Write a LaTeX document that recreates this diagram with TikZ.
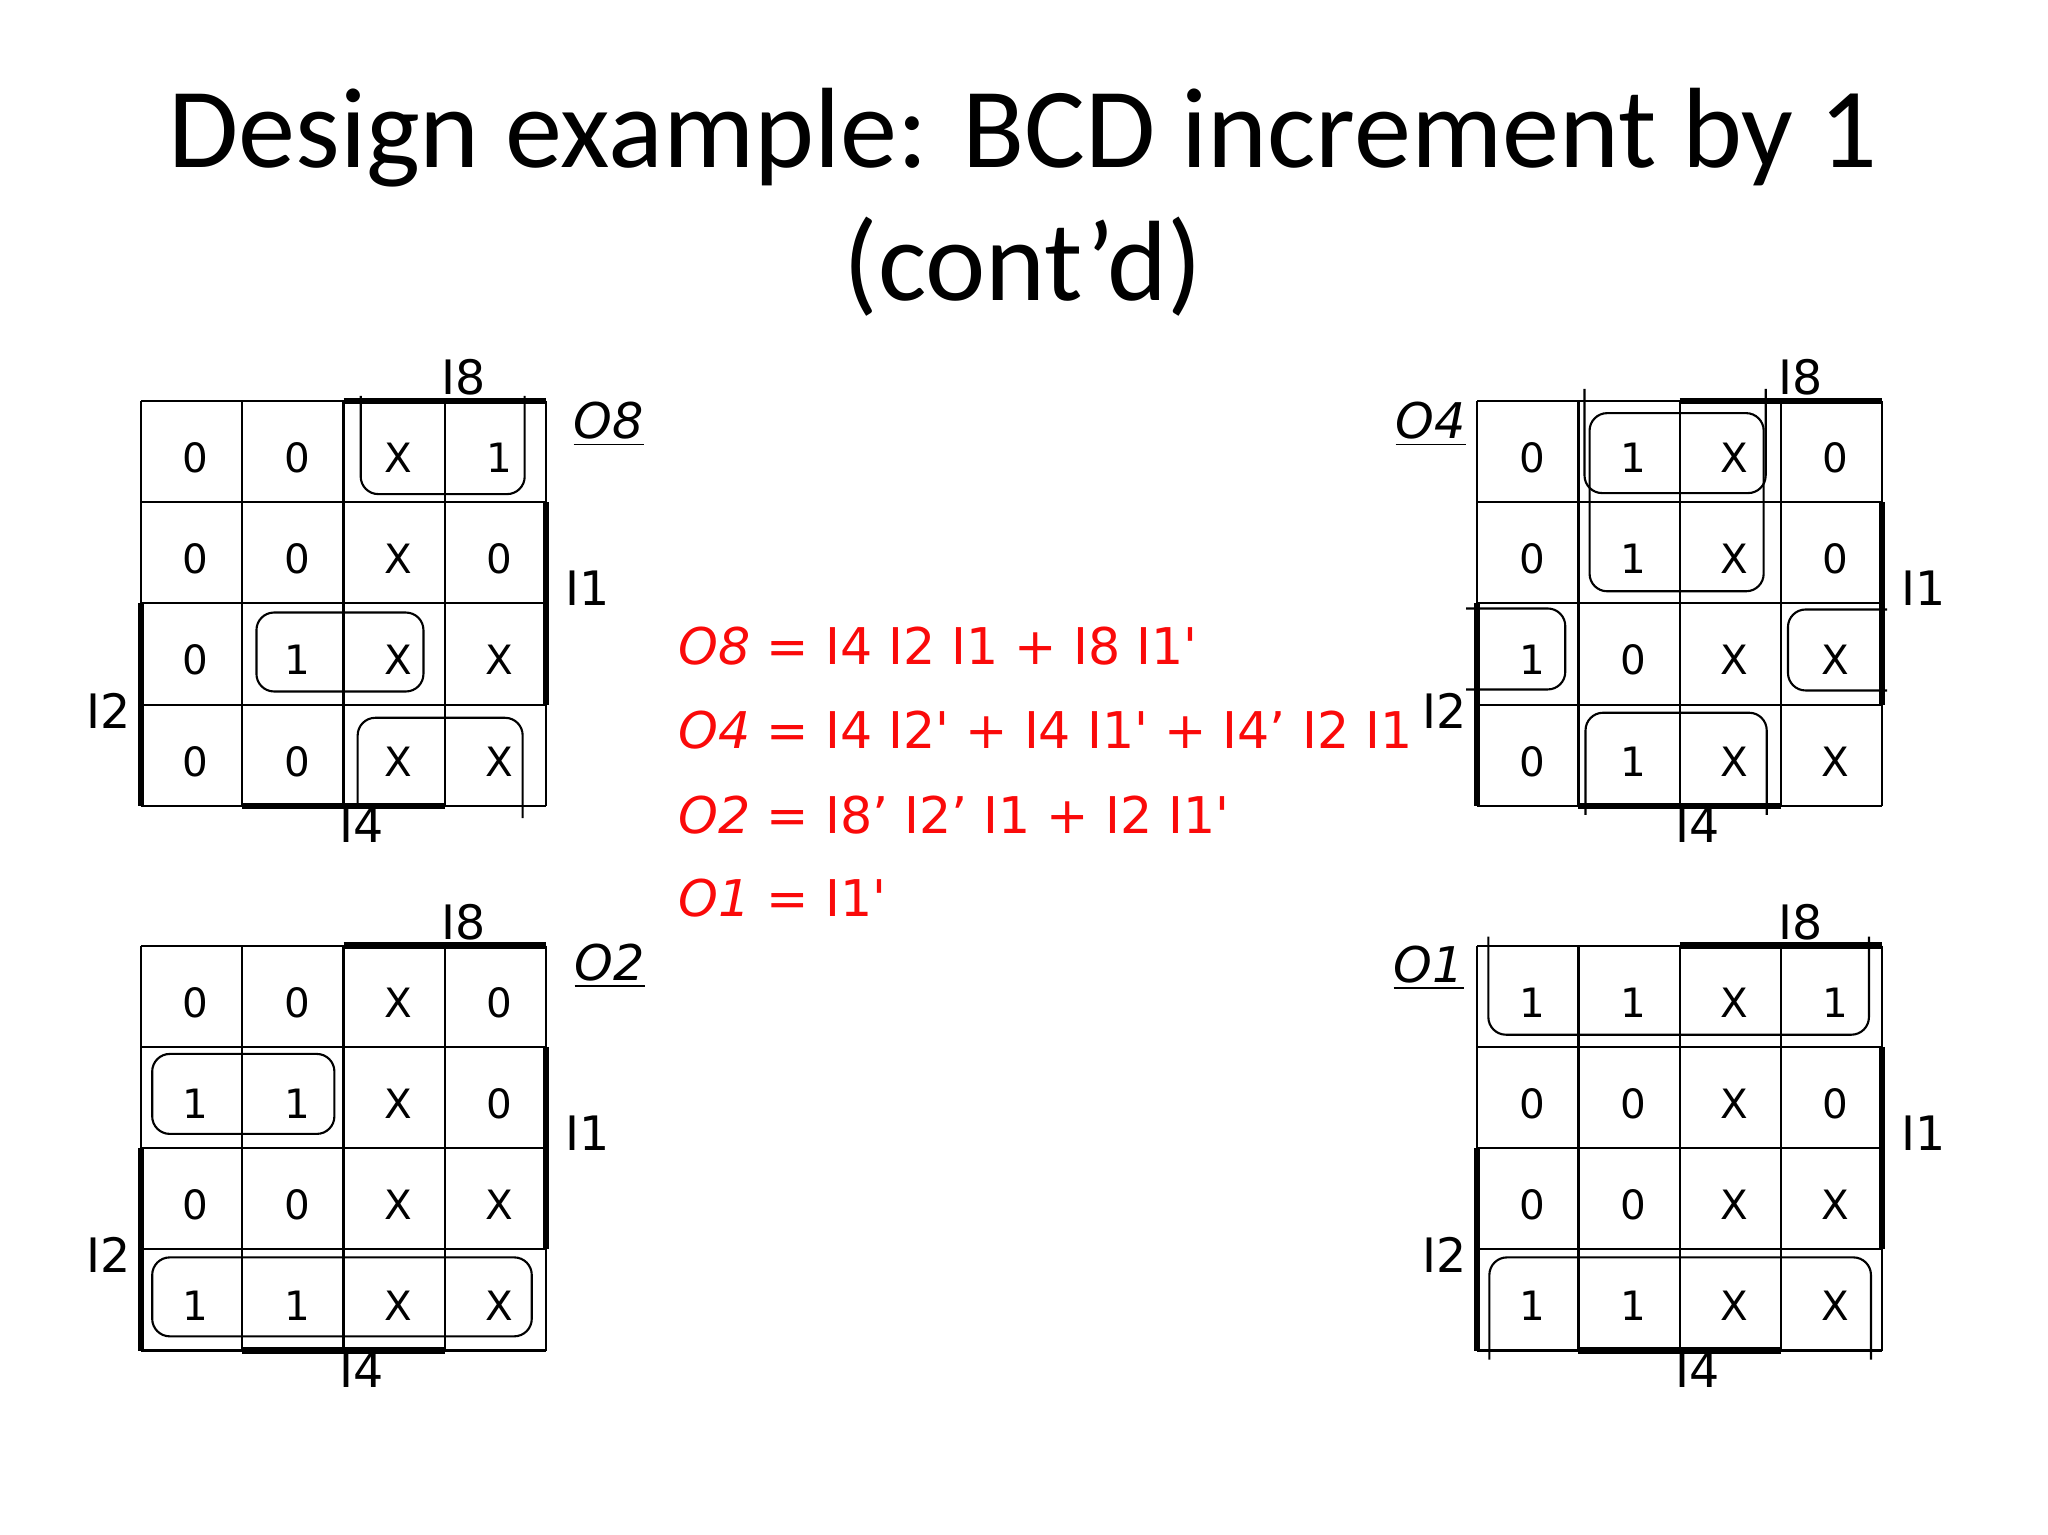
\documentclass[tikz,border=0pt]{standalone}
\usepackage{fontspec}
\setmainfont{Carlito}
\newfontfamily\kfont[Ligatures=TeXOff]{DejaVu Sans}
\usepackage{tikz}
\usepackage{xcolor}
\definecolor{eqred}{RGB}{250,10,10}

% one Karnaugh map: #1 = name prefix, #2 = rows of cell values
\newcommand{\kmapgrid}[2]{%
  \foreach \kk in {0,...,4} {
    \draw[kgrid] (\kk,0) -- (\kk,4);
    \draw[kgrid] (0,\kk) -- (4,\kk);
  }
  \foreach \rowvals [count=\rw from 0] in {#2} {
    \foreach \val [count=\col from 0] in \rowvals
      \node[kcell] (#1-\rw\col) at (\col+0.54,\rw+0.56) {\val};
  }
  % variable bars
  \draw[kbar] (2,0) -- (4,0);
  \draw[kbar] (4,1) -- (4,3);
  \draw[kbar] (0,2) -- (0,4);
  \draw[kbar] (1,4) -- (3,4);
  \node[kvar] (#1-i8) at (3.19,-0.23) {I8};
  \node[kvar] (#1-i1) at (4.41,1.85) {I1};
  \node[kvar] (#1-i2) at (-0.32,3.06) {I2};
  \node[kvar] (#1-i4) at (2.18,4.19) {I4};
}

\begin{document}
\begin{tikzpicture}[
    x=0.01306cm, y=-0.01306cm,
    title/.style={font=\fontsize{32.5}{39}\selectfont, anchor=base, inner sep=0pt},
    kgrid/.style={line width=0.6pt},
    kbar/.style={line width=1.8pt},
    kloop/.style={line width=0.6pt, rounded corners=5pt},
    kcell/.style={font=\kfont\fontsize{11.5}{11.5}\selectfont, inner sep=0pt},
    kvar/.style={font=\kfont\fontsize{13.5}{13.5}\selectfont, inner sep=0pt},
    kname/.style={font=\kfont\itshape\fontsize{14}{14}\selectfont, inner sep=0pt},
    eqn/.style={font=\kfont\fontsize{14.4}{14.4}\selectfont, text=eqred, anchor=base west, inner sep=0pt}
]
    \path[fill=white] (0,0) rectangle (1568,1175);
    \useasboundingbox (0,0) rectangle (1568,1175);

    % Title
    \node[title] (title) at (783,128) {Design example: BCD increment by 1};
    \node[title] (title-cont) at (783,230) {(cont’d)};

    % O8 map (top left)
    \begin{scope}[shift={(108,307)}, x=1.0122cm, y=-1.0122cm]
        \kmapgrid{o8}{{0,0,X,1},{0,0,X,0},{0,1,X,X},{0,0,X,X}}
        \node[kname] (o8-name) at (4.62,0.23) {\underline{O8}};
        \draw[kloop] (2.17,-0.05) -- (2.17,0.92) -- (3.79,0.92) -- (3.79,-0.05);
        \draw[kloop] (1.14,2.09) rectangle (2.79,2.87);
        \draw[kloop] (2.14,4.0) -- (2.14,3.13) -- (3.77,3.13) -- (3.77,4.12);
    \end{scope}

    % O4 map (top right)
    \begin{scope}[shift={(1131,307)}, x=1.0122cm, y=-1.0122cm]
        \kmapgrid{o4}{{0,1,X,0},{0,1,X,0},{1,0,X,X},{0,1,X,X}}
        \node[kname] (o4-name) at (-0.46,0.23) {\underline{O4}};
        \draw[kloop] (1.11,0.12) rectangle (2.83,1.88);
        \draw[kloop] (1.06,-0.12) -- (1.06,0.91) -- (2.85,0.91) -- (2.85,-0.12);
        \draw[kloop] (1.07,4.09) -- (1.07,3.08) -- (2.86,3.08) -- (2.86,4.09);
        \draw[kloop] (-0.11,2.05) -- (0.87,2.05) -- (0.87,2.85) -- (-0.11,2.85);
        \draw[kloop] (4.05,2.06) -- (3.07,2.06) -- (3.07,2.86) -- (4.05,2.86);
    \end{scope}

    % O2 map (bottom left)
    \begin{scope}[shift={(108,724)}, x=1.0122cm, y=-1.0122cm]
        \kmapgrid{o2}{{0,0,X,0},{1,1,X,0},{0,0,X,X},{1,1,X,X}}
        \node[kname] (o2-name) at (4.63,0.2) {\underline{O2}};
        \draw[kloop] (0.11,1.07) rectangle (1.91,1.86);
        \draw[kloop] (0.11,3.08) rectangle (3.86,3.86);
    \end{scope}

    % O1 map (bottom right)
    \begin{scope}[shift={(1131,724)}, x=1.0122cm, y=-1.0122cm]
        \kmapgrid{o1}{{1,1,X,1},{0,0,X,0},{0,0,X,X},{1,1,X,X}}
        \node[kname] (o1-name) at (-0.48,0.22) {\underline{O1}};
        \draw[kloop] (0.11,-0.09) -- (0.11,0.88) -- (3.87,0.88) -- (3.87,-0.09);
        \draw[kloop] (0.12,4.09) -- (0.12,3.08) -- (3.89,3.08) -- (3.89,4.09);
    \end{scope}

    % Minimized equations
    \node[eqn] (eq-o8) at (519,509) {\textit{O8} = I4 I2 I1 + I8 I1'};
    \node[eqn] (eq-o4) at (519,573) {\textit{O4} = I4 I2' + I4 I1' + I4’ I2 I1};
    \node[eqn] (eq-o2) at (519,638) {\textit{O2} = I8’ I2’ I1 + I2 I1'};
    \node[eqn] (eq-o1) at (519,702) {\textit{O1} = I1'};
\end{tikzpicture}
\end{document}
